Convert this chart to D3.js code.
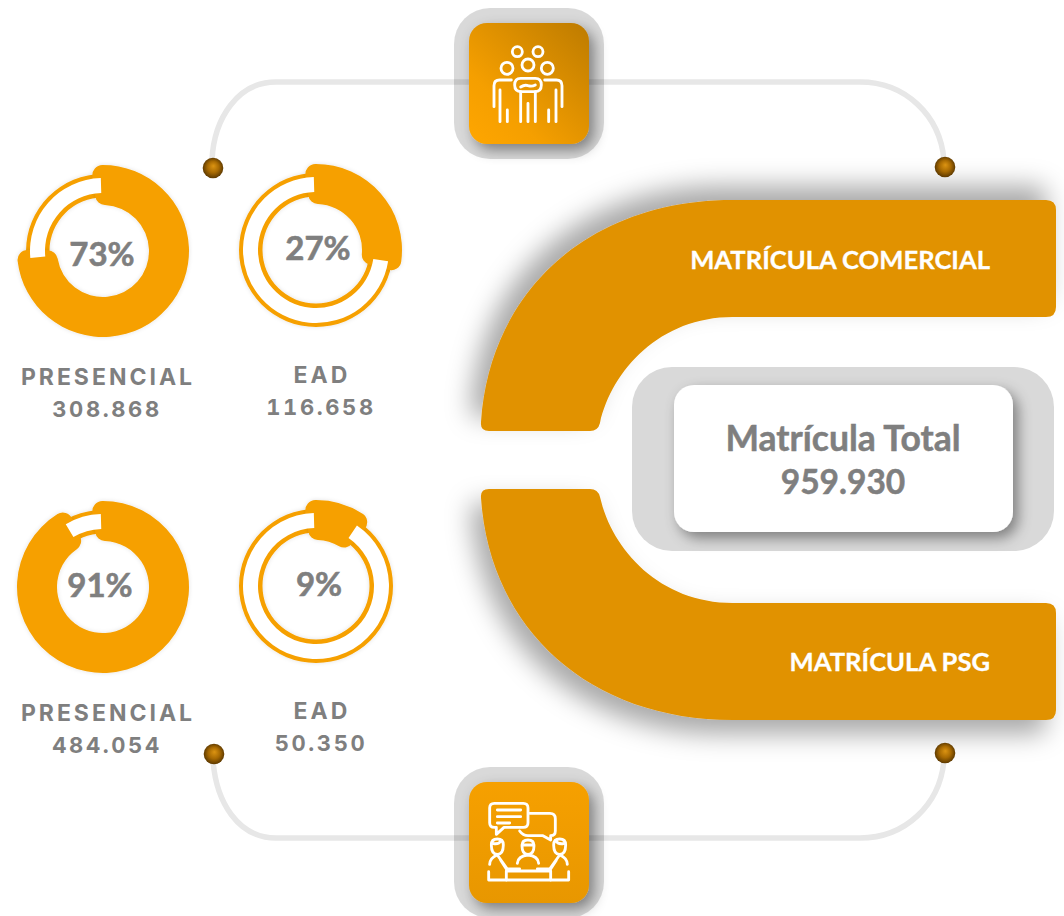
<!DOCTYPE html>
<html>
<head>
<meta charset="utf-8">
<script src="https://cdn.jsdelivr.net/npm/d3@7"></script>
<style>
html, body { margin: 0; padding: 0; background: #fff; overflow: hidden; }
svg { display: block; }
</style>
</head>
<body>
<div id="chart"></div>
<script>
// the values
var categories = ["PRESENCIAL", "EAD", "PRESENCIAL", "EAD"];
var percents = [73, 27, 91, 9];
var counts = ["308.868", "116.658", "484.054", "50.350"];
var bandLabels = ["MATRÍCULA COMERCIAL", "MATRÍCULA PSG"];
var totalLabel = "Matrícula Total";
var totalValue = "959.930";

// layout of the four rings
var centersX = [103, 316, 103, 316];
var centersY = [251, 250, 587, 586];
var pctX = [102, 318, 100, 319];
var pctY = [266, 260, 597, 596];
var labelX = [108, 322, 108, 322];
var labelY = [385, 383, 721, 719];
var countY = [417, 415, 753, 751];

var w = 1064, h = 916;
var orange = "#f6a000", band = "#e19200", grey = "#7f7f7f";
var textFont = "Lato, sans-serif";
var labelFont = "Inter, 'Liberation Sans', sans-serif";

var svg = d3.select("#chart").append("svg")
	.attr("width", w)
	.attr("height", h);
var defs = svg.append("defs");

// shadow filters
function addShadow(id, dx, dy, blur, color, alpha) {
	var f = defs.append("filter").attr("id", id)
		.attr("x", "-30%").attr("y", "-40%").attr("width", "160%").attr("height", "180%");
	f.append("feDropShadow")
		.attr("dx", dx).attr("dy", dy).attr("stdDeviation", blur)
		.attr("flood-color", color).attr("flood-opacity", alpha);
}
addShadow("shadowUp", -10, -14, 13, "#000", 0.34);
addShadow("shadowDown", -10, 14, 13, "#000", 0.34);
addShadow("shadowTile", 5, 6, 7, "#000", 0.42);
addShadow("shadowRing", 0, 0, 2, "#000", 0.12);

var tileGrad = defs.append("linearGradient").attr("id", "tileTop")
	.attr("x1", "0%").attr("y1", "100%").attr("x2", "100%").attr("y2", "0%");
tileGrad.append("stop").attr("offset", "0%").attr("stop-color", "#ffa600");
tileGrad.append("stop").attr("offset", "30%").attr("stop-color", "#f59f00");
tileGrad.append("stop").attr("offset", "100%").attr("stop-color", "#bd7b00");

var tileGrad2 = defs.append("linearGradient").attr("id", "tileBottom")
	.attr("x1", "0%").attr("y1", "0%").attr("x2", "0%").attr("y2", "100%");
tileGrad2.append("stop").attr("offset", "0%").attr("stop-color", "#f6a000");
tileGrad2.append("stop").attr("offset", "100%").attr("stop-color", "#e89700");

var ball = defs.append("radialGradient").attr("id", "ball")
	.attr("cx", "50%").attr("cy", "50%").attr("r", "55%")
	.attr("fx", "52%").attr("fy", "40%");
ball.append("stop").attr("offset", "0%").attr("stop-color", "#dc9412");
ball.append("stop").attr("offset", "50%").attr("stop-color", "#a86a02");
ball.append("stop").attr("offset", "100%").attr("stop-color", "#4f3000");

// connector lines
var connectors = [
	"M212,160 C214,118 238,82 276,82 H860 C905,82 940,115 944,160",
	"M213,760 C216,802 238,838 276,838 H860 C905,838 940,805 944,760"
];
svg.selectAll("path.connector").data(connectors).enter().append("path")
	.attr("class", "connector")
	.attr("d", function(d) { return d; })
	.attr("fill", "none")
	.attr("stroke", "#e7e7e7")
	.attr("stroke-width", 5.5);

// the two big curved bands; the lower is the upper one mirrored
function bandPath(flip) {
	var y = function(v) { return flip ? 920 - v : v; };
	return "M489," + y(431) +
		" Q480," + y(431) + " 481," + y(422) +
		" C490," + y(290) + " 590," + y(200) + " 733," + y(200) +
		" H1046 Q1056," + y(200) + " 1056," + y(210) +
		" V" + y(307) + " Q1056," + y(317) + " 1046," + y(317) +
		" H733 C660," + y(317) + " 612," + y(370) + " 600," + y(423) +
		" Q598," + y(431) + " 590," + y(431) + " Z";
}
svg.append("path").attr("d", bandPath(false)).attr("fill", band).attr("filter", "url(#shadowUp)");
svg.append("path").attr("d", bandPath(true)).attr("fill", band).attr("filter", "url(#shadowDown)");

// dots at the ends of the lines
var dotX = [213, 945, 214, 945];
var dotY = [168, 167, 754, 753];
svg.selectAll("circle.dot").data(dotX).enter().append("circle")
	.attr("class", "dot")
	.attr("cx", function(d) { return d; })
	.attr("cy", function(d, i) { return dotY[i]; })
	.attr("r", 10.3)
	.attr("fill", "url(#ball)");

svg.selectAll("text.band").data(bandLabels).enter().append("text")
	.attr("class", "band")
	.attr("x", 990)
	.attr("y", function(d, i) { return i == 0 ? 269 : 671; })
	.attr("text-anchor", "end")
	.attr("font-family", textFont)
	.attr("font-weight", 700)
	.attr("font-size", 25.6)
	.attr("fill", "#fff")
	.attr("stroke", "#fff")
	.attr("stroke-width", 0.3)
	.text(function(d) { return d; });

// center box
svg.append("rect").attr("x", 632).attr("y", 367).attr("width", 422).attr("height", 184)
	.attr("rx", 40).attr("fill", "#d9d9d9");
svg.append("rect").attr("x", 674).attr("y", 385).attr("width", 339).attr("height", 147)
	.attr("rx", 20).attr("fill", "#fff").attr("filter", "url(#shadowTile)");
svg.append("text").attr("x", 843).attr("y", 451).attr("text-anchor", "middle")
	.attr("font-family", textFont).attr("font-weight", 700).attr("font-size", 35.5)
	.attr("fill", grey).attr("stroke", grey).attr("stroke-width", 0.5).text(totalLabel);
svg.append("text").attr("x", 843).attr("y", 494).attr("text-anchor", "middle")
	.attr("font-family", textFont).attr("font-weight", 700).attr("font-size", 33.5)
	.attr("fill", grey).attr("stroke", grey).attr("stroke-width", 0.5).text(totalValue);

// the rings
var angle = d3.scaleLinear().domain([0, 100]).range([0, 2 * Math.PI]);
var overhang = 8 * Math.PI / 180; // the thick arc runs a little past its value

var thinRing = d3.arc().innerRadius(53.5).outerRadius(77).startAngle(0).endAngle(2 * Math.PI);
var thickArc = d3.arc().innerRadius(46).outerRadius(86).cornerRadius(10);
var track = d3.arc().innerRadius(58).outerRadius(73);

var rings = svg.selectAll("g.ring").data(percents).enter().append("g")
	.attr("class", "ring")
	.attr("transform", function(d, i) { return "translate(" + centersX[i] + "," + centersY[i] + ")"; });

rings.append("path")
	.attr("d", thinRing())
	.attr("fill", orange)
	.attr("filter", "url(#shadowRing)");
rings.append("path")
	.attr("d", function(d) {
		return thickArc({ startAngle: -overhang, endAngle: angle(d) + overhang });
	})
	.attr("fill", orange)
	.attr("filter", "url(#shadowRing)");
rings.append("path")
	.attr("d", function(d) {
		return track({ startAngle: angle(d) + 0.03, endAngle: 2 * Math.PI - 0.03 });
	})
	.attr("fill", "#fff");

svg.selectAll("text.pct").data(percents).enter().append("text")
	.attr("class", "pct")
	.attr("x", function(d, i) { return pctX[i]; })
	.attr("y", function(d, i) { return pctY[i]; })
	.attr("text-anchor", "middle")
	.attr("font-family", textFont)
	.attr("font-weight", 700)
	.attr("font-size", 33)
	.attr("fill", grey)
	.attr("stroke", grey)
	.attr("stroke-width", 0.6)
	.text(function(d) { return d + "%"; });

svg.selectAll("text.cat").data(categories).enter().append("text")
	.attr("class", "cat")
	.attr("x", function(d, i) { return labelX[i]; })
	.attr("y", function(d, i) { return labelY[i]; })
	.attr("text-anchor", "middle")
	.attr("font-family", labelFont)
	.attr("font-weight", 700)
	.attr("font-size", 23)
	.attr("letter-spacing", 3)
	.attr("fill", grey)
	.text(function(d) { return d; });

svg.selectAll("text.count").data(counts).enter().append("text")
	.attr("class", "count")
	.attr("x", function(d, i) { return labelX[i] - 1; })
	.attr("y", function(d, i) { return countY[i]; })
	.attr("text-anchor", "middle")
	.attr("font-family", labelFont)
	.attr("font-weight", 700)
	.attr("font-size", 22)
	.attr("letter-spacing", 2.6)
	.attr("fill", grey)
	.style("font-variant-numeric", "tabular-nums")
	.text(function(d) { return d; });

// icon tiles; the outer plate is see-through so the line shows under it
var plates = [8, 767];
svg.selectAll("rect.plate").data(plates).enter().append("rect")
	.attr("class", "plate")
	.attr("x", 454)
	.attr("y", function(d) { return d; })
	.attr("width", 150)
	.attr("height", 151)
	.attr("rx", 36)
	.attr("fill", "#000")
	.attr("fill-opacity", 0.15);
svg.append("rect").attr("x", 469).attr("y", 23).attr("width", 120).attr("height", 121)
	.attr("rx", 18).attr("fill", "url(#tileTop)").attr("filter", "url(#shadowTile)");
svg.append("rect").attr("x", 469).attr("y", 782).attr("width", 120).attr("height", 121)
	.attr("rx", 18).attr("fill", "url(#tileBottom)").attr("filter", "url(#shadowTile)");

// icons, drawn in a 300x300 box
var peopleIcon = [
	"M133,50 a15,15 0 1,1 -30,0 a15,15 0 1,1 30,0",
	"M195,50 a15,15 0 1,1 -30,0 a15,15 0 1,1 30,0",
	"M105,100 a18,18 0 1,1 -36,0 a18,18 0 1,1 36,0",
	"M168,90 a18,18 0 1,1 -36,0 a18,18 0 1,1 36,0",
	"M226,100 a18,18 0 1,1 -36,0 a18,18 0 1,1 36,0",
	"M100,135 H65 Q48,135 48,152 V215",
	"M66,165 V260 M88,225 V260",
	"M200,135 H235 Q252,135 252,152 V215",
	"M234,165 V260 M212,225 V260",
	"M128,130 H172 Q190,130 190,150 Q190,170 170,170 H130 Q110,170 110,150 Q110,130 128,130 Z",
	"M128,156 Q140,148 150,152 Q162,156 172,150",
	"M128,170 V260 M150,205 V260 M172,170 V260"
];
var meetingIcon = [
	"M49,25 H136 Q150,25 150,39 V83 Q150,97 136,97 H78 L55,118 V97 H49 Q35,97 35,83 V39 Q35,25 49,25 Z",
	"M58,45 H128 M58,65 H128 M58,84 H95",
	"M155,55 H216 Q232,55 232,71 V108 Q232,122 218,122 V135 L195,122 H150 Q135,122 125,108",
	"M40,150 Q40,132 58,132 Q76,132 76,150 Q76,178 58,178 Q40,178 40,150 Z M44,145 Q62,150 70,136",
	"M132,152 Q132,135 150,135 Q168,135 168,152 Q168,178 150,178 Q132,178 132,152 Z M132,150 H168",
	"M227,150 Q227,132 245,132 Q263,132 263,150 Q263,178 245,178 Q227,178 227,150 Z M233,136 Q240,150 259,145",
	"M35,208 Q36,188 58,180 L88,222 H125 M68,196 L85,222",
	"M268,208 Q267,188 245,180 L215,222 H178 M235,196 L218,222",
	"M118,205 Q120,183 150,180 Q180,183 182,205",
	"M85,228 H218 V255 M85,228 V255",
	"M32,230 V255 H272 V230"
];
function drawIcon(paths, x, y) {
	svg.append("g")
		.attr("transform", "translate(" + x + "," + y + ") scale(0.3333)")
		.selectAll("path").data(paths).enter().append("path")
		.attr("d", function(d) { return d; })
		.attr("fill", "none")
		.attr("stroke", "#fff")
		.attr("stroke-width", 8.5)
		.attr("stroke-linejoin", "round")
		.attr("stroke-linecap", "round");
}
drawIcon(peopleIcon, 478, 35);
drawIcon(meetingIcon, 478, 795);
</script>
</body>
</html>
